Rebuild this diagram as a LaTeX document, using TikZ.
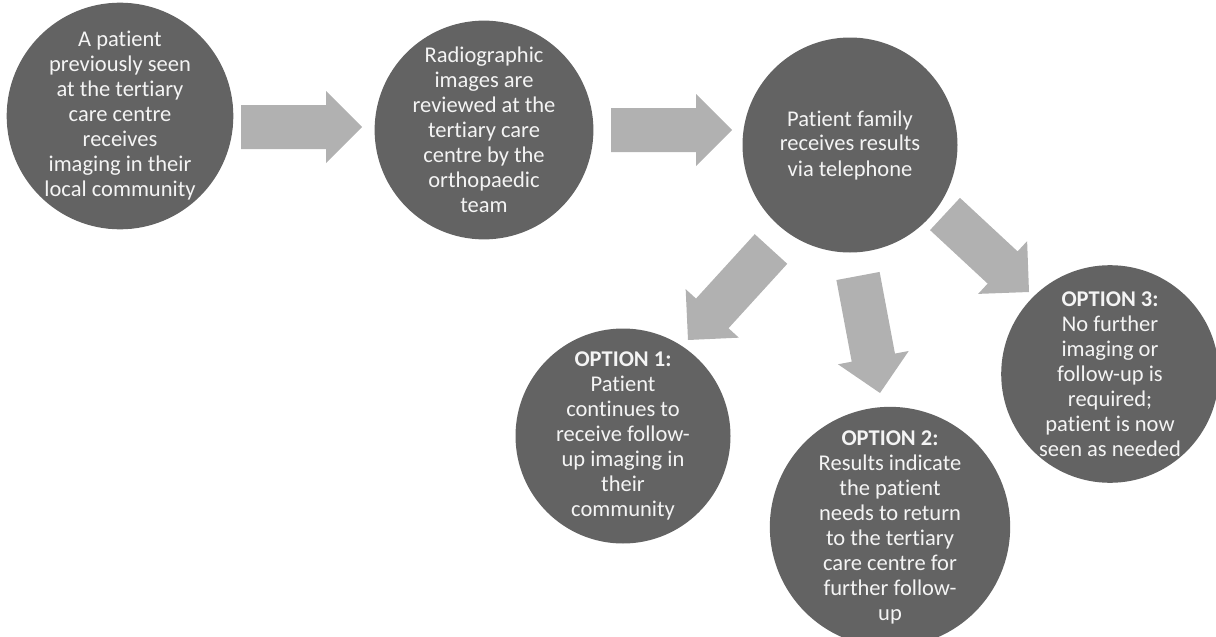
\documentclass[tikz,border=0pt]{standalone}
\usepackage{fontspec}
\setmainfont{Carlito}[Ligatures=NoCommon]
\usetikzlibrary{calc}
\definecolor{circfill}{HTML}{636363}
\definecolor{arrfill}{HTML}{B1B1B1}
\definecolor{txtcol}{HTML}{F4F4F4}
\tikzset{
  stage/.style={circle, fill=circfill, minimum size=215pt, inner sep=0pt,
    text=txtcol, align=center, font=\fontsize{22.5}{25}\selectfont},
  flowarrow/.style={fill=arrfill, draw=none},
}
% block arrow from coordinate #1 (tail) to coordinate #2 (tip)
\newcommand\blockarrow[2]{%
  \coordinate (ba-base) at ($(#2)!36pt!(#1)$);
  \fill[flowarrow]
    ($(#1)!22pt!90:(#2)$) --
    ($(ba-base)!22pt!90:(#2)$) --
    ($(ba-base)!36pt!90:(#2)$) --
    (#2) --
    ($(ba-base)!36pt!-90:(#2)$) --
    ($(ba-base)!22pt!-90:(#2)$) --
    ($(#1)!22pt!-90:(#2)$) -- cycle;
}
\begin{document}
\begin{tikzpicture}[x=1pt,y=-1pt]
\useasboundingbox (0,0) rectangle (1216,637);

\node[stage] (c1) at (120,116) {A patient\\previously seen\\at the tertiary\\care centre\\receives\\imaging in their\\local community};
\node[stage] (c2) at (484,130) {Radiographic\\images are\\reviewed at the\\tertiary care\\centre by the\\orthopaedic\\team};
\node[stage] (c3) at (850,145) {Patient family\\receives results\\via telephone};
\node[stage] (o1) at (623,436) {\textbf{OPTION 1:}\\Patient\\continues to\\receive follow-\\up imaging in\\their\\community};
\node[stage] (o2) at (890,527) {\textbf{OPTION 2:}\\Results indicate\\the patient\\needs to return\\to the tertiary\\care centre for\\further follow-\\up};
\node[stage] (o3) at (1110,374) {\textbf{OPTION 3:}\\No further\\imaging or\\follow-up is\\required;\\patient is now\\seen as needed};

\coordinate (a1s) at (241,127);
\coordinate (a1e) at (362,127);
\coordinate (a2s) at (611,130);
\coordinate (a2e) at (732,130);
\coordinate (a3s) at (771,249);
\coordinate (a3e) at (688,340);
\coordinate (a4s) at (858,276);
\coordinate (a4e) at (880,393);
\coordinate (a5s) at (945,214);
\coordinate (a5e) at (1029,292);

\blockarrow{a1s}{a1e}
\blockarrow{a2s}{a2e}
\blockarrow{a3s}{a3e}
\blockarrow{a4s}{a4e}
\blockarrow{a5s}{a5e}
\end{tikzpicture}
\end{document}
